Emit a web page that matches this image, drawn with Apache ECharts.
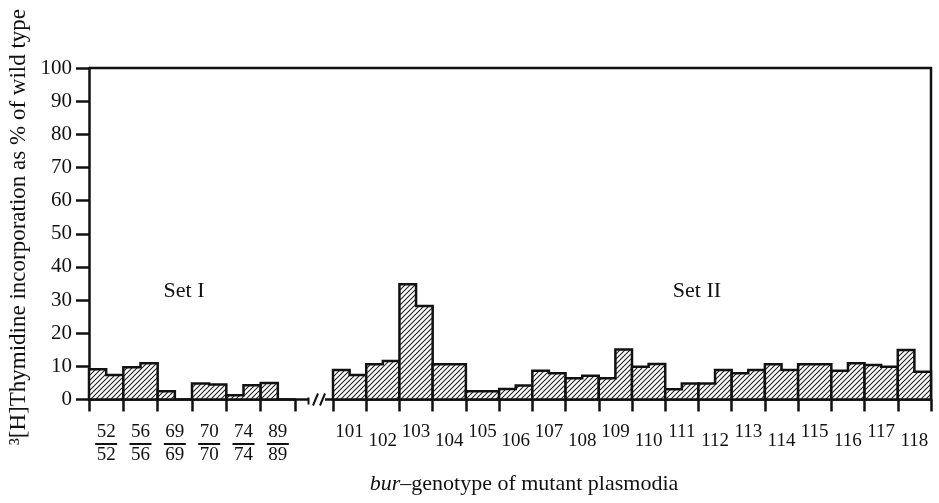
<!DOCTYPE html>
<html>
<head>
<meta charset="utf-8">
<script src="https://cdn.jsdelivr.net/npm/echarts@6/dist/echarts.min.js"></script>
<style>
html,body{margin:0;padding:0;background:#fff;}
#c{width:939px;height:503px;}
</style>
</head>
<body>
<div id="c"></div>
<script>
// ---- data ----
const setICategories = ['52/52', '56/56', '69/69', '70/70', '74/74', '89/89'];
const setIFirst  = [9.1, 9.7, 2.5, 4.8, 1.3, 5.0];
const setISecond = [7.4, 10.9, 0, 4.5, 4.3, 0];

const setIICategories = ['101','102','103','104','105','106','107','108','109','110','111','112','113','114','115','116','117','118'];
const setIIFirst  = [8.9, 10.6, 34.8, 10.6, 2.5, 3.2, 8.7, 6.4, 6.4, 9.9, 3.1, 4.8, 7.9, 10.6, 10.6, 8.7, 10.4, 14.9];
const setIISecond = [7.4, 11.6, 28.2, 10.6, 2.5, 4.2, 7.9, 7.2, 15.1, 10.7, 4.8, 8.9, 8.9, 8.9, 10.6, 10.9, 9.9, 8.4];

const yMin = 0, yMax = 100, yStep = 10;
const yAxisTitle = '\u00b3[H]Thymidine incorporation as % of wild type';
const setLabels = ['Set I', 'Set II'];

// ---- layout ----
const FONT = "'Liberation Serif','DejaVu Serif',serif";
const INK = '#111';
const G1 = {left: 89, width: 206};
const G2 = {left: 333, width: 598};
const TOP = 68, BASE = 399.5;
const H = BASE - TOP;

// hatch pattern
const pat = document.createElement('canvas');
pat.width = 5; pat.height = 5;
(function(){
  const c = pat.getContext('2d');
  c.fillStyle = '#fff'; c.fillRect(0,0,5,5);
  c.strokeStyle = '#222'; c.lineWidth = 1.1;
  c.beginPath();
  c.moveTo(-1,6); c.lineTo(6,-1);
  c.moveTo(-1,1); c.lineTo(1,-1);
  c.moveTo(4,6); c.lineTo(6,4);
  c.stroke();
})();
const hatch = {image: pat, repeat: 'repeat'};

function renderStep(params, api) {
  const i = api.value(0);
  const a = api.value(1), b = api.value(2);
  const w = api.size([1, 0])[0];
  const p0 = api.coord([i, 0]);
  const pa = api.coord([i, a]);
  const pb = api.coord([i, b]);
  const x0 = p0[0] - w / 2, x1 = p0[0] + w / 2, xm = p0[0];
  return {
    type: 'polygon',
    shape: {points: [[x0, p0[1]], [x0, pa[1]], [xm, pa[1]], [xm, pb[1]], [x1, pb[1]], [x1, p0[1]]]},
    style: {fill: hatch, stroke: INK, lineWidth: 2.5, lineJoin: 'miter'}
  };
}

const dataI = setICategories.map((c, i) => [i, setIFirst[i], setISecond[i]]);
const dataII = setIICategories.map((c, i) => [i, setIIFirst[i], setIISecond[i]]);

const axisLineStyle = {color: INK, width: 2.5};
const numStyle = {fontFamily: FONT, fontSize: 19, color: INK};
const xTick = {show: true, inside: false, interval: 0, alignWithLabel: false, length: 12, lineStyle: {color: INK, width: 2.5}};

const chart = echarts.init(document.getElementById('c'), null, {renderer: 'canvas'});
chart.setOption({
  animation: false,
  backgroundColor: '#fff',
  grid: [
    {left: G1.left, width: G1.width, top: TOP, height: H},
    {left: G2.left, width: G2.width, top: TOP, height: H}
  ],
  xAxis: [
    {
      gridIndex: 0, type: 'category', data: setICategories, boundaryGap: true,
      axisLine: {show: true, lineStyle: axisLineStyle},
      axisTick: xTick,
      axisLabel: {
        margin: 27, interval: 0,
        formatter: v => { const p = v.split('/'); return '{n|' + p[0] + '}\n{l| }\n{n|' + p[1] + '}'; },
        rich: {
          n: Object.assign({lineHeight: 12}, numStyle),
          l: {width: 22, height: 2, backgroundColor: INK, lineHeight: 11, fontSize: 2}
        }
      }
    },
    {
      gridIndex: 1, type: 'category', data: setIICategories, boundaryGap: true,
      axisLine: {show: true, lineStyle: axisLineStyle},
      axisTick: xTick,
      axisLabel: {
        margin: 27, interval: 0,
        formatter: (v, i) => (i % 2 === 0 ? '{u|' + v + '}' : '{d|' + v + '}'),
        rich: {
          u: Object.assign({lineHeight: 12}, numStyle),
          d: Object.assign({lineHeight: 12, padding: [17, 0, 0, 0]}, numStyle)
        }
      }
    }
  ],
  yAxis: [
    {
      gridIndex: 0, type: 'value', min: yMin, max: yMax, interval: yStep,
      axisLine: {show: true, lineStyle: axisLineStyle},
      axisTick: {show: true, length: 13, lineStyle: {color: INK, width: 2.5}},
      axisLabel: {margin: 17, fontFamily: FONT, fontSize: 21, color: INK},
      splitLine: {show: false}
    },
    {
      gridIndex: 1, type: 'value', min: yMin, max: yMax, interval: yStep, show: false,
      splitLine: {show: false}
    }
  ],
  series: [
    {type: 'custom', xAxisIndex: 0, yAxisIndex: 0, data: dataI, renderItem: renderStep, encode: {x: 0, y: [1, 2]}},
    {type: 'custom', xAxisIndex: 1, yAxisIndex: 1, data: dataII, renderItem: renderStep, encode: {x: 0, y: [1, 2]}}
  ],
  graphic: [
    // top & right frame
    {type: 'polyline', silent: true, shape: {points: [[G1.left, TOP], [G2.left + G2.width, TOP], [G2.left + G2.width, BASE]]}, style: {stroke: INK, lineWidth: 2.5, fill: null}},
    // axis break
    {type: 'line', silent: true, shape: {x1: G1.left + G1.width, y1: BASE, x2: 309, y2: BASE}, style: {stroke: INK, lineWidth: 2.5}},
    {type: 'line', silent: true, shape: {x1: 308.5, y1: BASE - 2, x2: 308.5, y2: BASE + 5}, style: {stroke: INK, lineWidth: 2}},
    {type: 'line', silent: true, shape: {x1: 313, y1: BASE + 6, x2: 318, y2: BASE - 6}, style: {stroke: INK, lineWidth: 2}},
    {type: 'line', silent: true, shape: {x1: 320, y1: BASE + 6, x2: 325, y2: BASE - 6}, style: {stroke: INK, lineWidth: 2}},
    {type: 'line', silent: true, shape: {x1: 325, y1: BASE, x2: G2.left, y2: BASE}, style: {stroke: INK, lineWidth: 2.5}},
    // set labels
    {type: 'text', silent: true, x: 184, y: 291, style: {text: setLabels[0], font: '22px ' + FONT, fill: INK, align: 'center', verticalAlign: 'middle'}},
    {type: 'text', silent: true, x: 697, y: 291, style: {text: setLabels[1], font: '22px ' + FONT, fill: INK, align: 'center', verticalAlign: 'middle'}},
    // y axis title
    {type: 'text', silent: true, x: 19, y: 227, rotation: Math.PI / 2, style: {text: yAxisTitle, font: '23px ' + FONT, fill: INK, align: 'center', verticalAlign: 'middle'}},
    // x axis title
    {type: 'text', silent: true, x: 524, y: 484, style: {
      text: '{i|bur}\u2013genotype of mutant plasmodia', fill: INK, align: 'center', verticalAlign: 'middle',
      font: '22px ' + FONT,
      rich: {i: {fontStyle: 'italic', fontFamily: FONT, fontSize: 22, fill: INK}}
    }}
  ]
});
</script>
</body>
</html>
